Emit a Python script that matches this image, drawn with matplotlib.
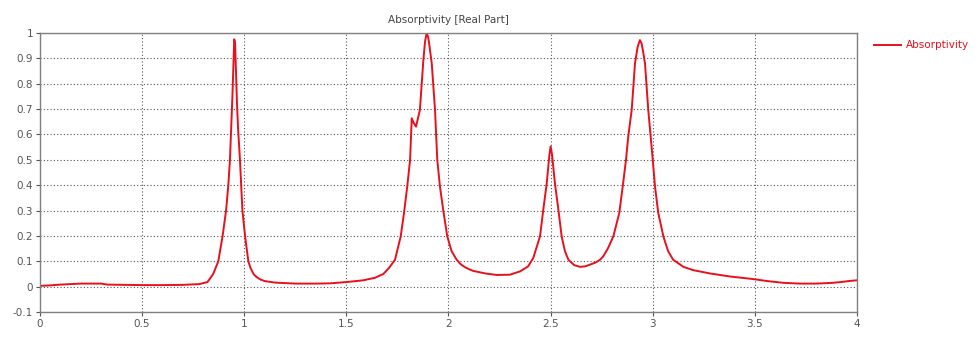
import matplotlib
matplotlib.use("Agg")
from matplotlib import pyplot as plt

# frequency values and real-part absorptivity
freq = [0.00, 0.05, 0.10, 0.15, 0.20, 0.30, 0.33, 0.40, 0.50, 0.60, 0.70, 0.78, 0.82,
        0.848, 0.873, 0.894, 0.911, 0.922, 0.93, 0.937, 0.942, 0.947, 0.951, 0.955,
        0.960, 0.965, 0.970, 0.979, 0.991, 1.004, 1.02, 1.03, 1.045, 1.06, 1.08, 1.10,
        1.15, 1.25, 1.35, 1.42, 1.50, 1.583, 1.64, 1.681, 1.71, 1.738, 1.766, 1.782,
        1.798, 1.812, 1.82, 1.83, 1.841, 1.86, 1.869, 1.877, 1.885, 1.893, 1.900,
        1.905, 1.918, 1.934, 1.945, 1.958, 1.975, 1.994, 2.015, 2.04, 2.06, 2.08, 2.10,
        2.121, 2.18, 2.236, 2.30, 2.35, 2.39, 2.415, 2.448, 2.464, 2.481, 2.494, 2.50,
        2.507, 2.521, 2.538, 2.554, 2.57, 2.587, 2.615, 2.644, 2.67, 2.693, 2.72,
        2.742, 2.758, 2.78, 2.807, 2.836, 2.853, 2.869, 2.88, 2.897, 2.913, 2.926,
        2.937, 2.945, 2.952, 2.962, 2.978, 2.990, 3.0, 3.011, 3.027, 3.052, 3.075,
        3.10, 3.15, 3.198, 3.28, 3.378, 3.49, 3.56, 3.64, 3.72, 3.80, 3.88, 3.92,
        3.96, 4.0]
absorptivity = [0.003, 0.005, 0.008, 0.010, 0.012, 0.012, 0.008, 0.007, 0.006, 0.006,
                0.007, 0.010, 0.018, 0.05, 0.10, 0.20, 0.30, 0.40, 0.50, 0.64, 0.75,
                0.88, 0.975, 0.96, 0.84, 0.71, 0.62, 0.50, 0.30, 0.20, 0.10, 0.075,
                0.05, 0.038, 0.028, 0.022, 0.016, 0.012, 0.012, 0.013, 0.018, 0.025,
                0.035, 0.050, 0.075, 0.106, 0.198, 0.29, 0.395, 0.50, 0.664, 0.645,
                0.631, 0.697, 0.80, 0.894, 0.965, 1.0, 0.985, 0.96, 0.88, 0.697, 0.50,
                0.395, 0.297, 0.198, 0.14, 0.106, 0.088, 0.077, 0.069, 0.062, 0.052,
                0.046, 0.047, 0.060, 0.080, 0.113, 0.198, 0.303, 0.408, 0.52, 0.553,
                0.52, 0.408, 0.303, 0.198, 0.14, 0.106, 0.085, 0.078, 0.080, 0.087,
                0.095, 0.106, 0.12, 0.15, 0.198, 0.29, 0.395, 0.50, 0.592, 0.697, 0.88,
                0.945, 0.972, 0.96, 0.93, 0.88, 0.697, 0.592, 0.50, 0.395, 0.29, 0.198,
                0.14, 0.106, 0.078, 0.065, 0.052, 0.040, 0.030, 0.022, 0.015, 0.012,
                0.012, 0.015, 0.018, 0.022, 0.025]

x_ticks = [0, 0.5, 1, 1.5, 2, 2.5, 3, 3.5, 4]
x_labels = ["0", "0.5", "1", "1.5", "2", "2.5", "3", "3.5", "4"]
y_ticks = [-0.1, 0, 0.1, 0.2, 0.3, 0.4, 0.5, 0.6, 0.7, 0.8, 0.9, 1]
y_labels = ["-0.1", "0", "0.1", "0.2", "0.3", "0.4", "0.5", "0.6", "0.7", "0.8", "0.9", "1"]

plt.rcParams['font.family'] = ['DejaVu Sans']
fig = plt.figure(figsize=(9.79, 3.40), dpi=100)
ax = fig.add_axes([40 / 979, 28 / 340, 817 / 979, 279 / 340])

line_color = '#e8101c'
ax.plot(freq, absorptivity, color=line_color, linewidth=1.4, label="Absorptivity")

ax.set_xlim(0, 4)
ax.set_ylim(-0.1, 1)
ax.set_xticks(x_ticks)
ax.set_xticklabels(x_labels)
ax.set_yticks(y_ticks)
ax.set_yticklabels(y_labels)
ax.tick_params(labelsize=7.5, colors='#555555', length=3, width=0.8, pad=2)
ax.grid(True, color='#555555', linestyle=(0, (1, 2)), linewidth=0.8)
for spine in ax.spines.values():
    spine.set_color('#808080')
    spine.set_linewidth(1.0)

ax.set_title("Absorptivity [Real Part]", fontsize=7.5, color='#444444', pad=7)
ax.legend(loc='upper left', bbox_to_anchor=(1.012, 1.0), frameon=False, fontsize=7.5,
          labelcolor=line_color, handlelength=2.6, handletextpad=0.5, borderaxespad=0.3)

fig.savefig("out.png", dpi=100)
plt.close(fig)
